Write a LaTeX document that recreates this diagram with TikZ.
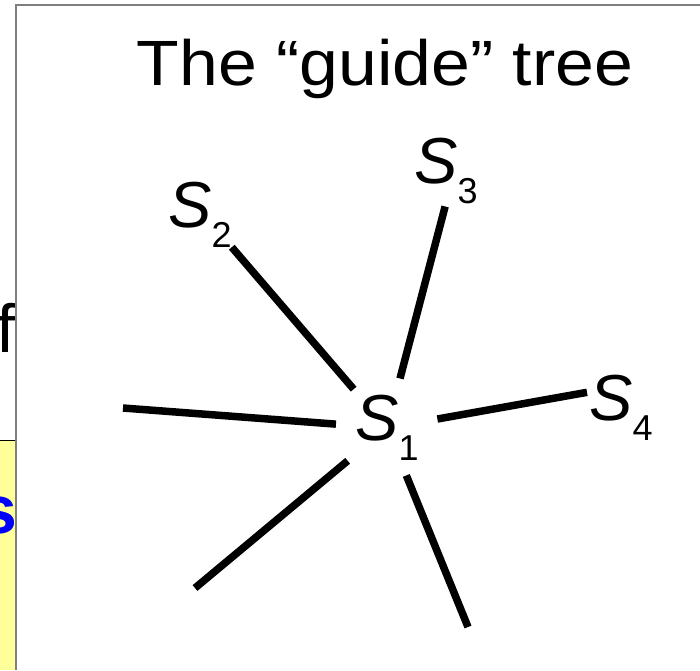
\documentclass[tikz,border=0pt]{standalone}
\usepackage{fontspec}
\setmainfont{Liberation Sans}
\usetikzlibrary{positioning,calc}
\definecolor{noteyellow}{HTML}{FFFF99}
\definecolor{framegray}{HTML}{7F7F7F}
\definecolor{keyblue}{HTML}{0000FF}
\newcommand{\Sq}[1]{\textit{S}\raisebox{-20pt}{\fontsize{36}{36}\selectfont #1}}
\tikzset{
  branch/.style={line width=7.5pt,black},
  seqnode/.style={font=\fontsize{65}{65}\selectfont,inner sep=0pt},
  hubnode/.style={seqnode,circle,minimum size=102pt},
  titlenode/.style={font=\fontsize{64}{64}\selectfont,inner sep=0pt},
  framel/.style={framegray,line width=1.2pt}
}

\begin{document}
\begin{tikzpicture}[x=1pt,y=-1pt]
\useasboundingbox (0,0) rectangle (700,670);
% what shows of the slide on the left
\begin{scope}
\clip (0,0) rectangle (16,670);
\fill[noteyellow] (0,440) rectangle (16,670);
\draw[black,line width=0.8pt] (0,440) -- (16,440);
\node[titlenode,font=\fontsize{68}{68}\selectfont,anchor=base east] (leftf) at (16,352) {f};
\node[titlenode,font=\fontsize{68}{68}\selectfont\bfseries,text=keyblue,anchor=base east] (lefts) at (18,533) {s};
\end{scope}
\draw[framel] (16,670) -- (16,5) -- (700,5);
\node[titlenode,anchor=base] (title) at (385,85) {\scalebox{1.09}[1]{The “guide” tree}};
% the star tree
\node[hubnode] (s1) at (387,428) {\Sq{1}};
\node[seqnode,anchor=base west] (s2) at (168,227) {\Sq{2}};
\node[seqnode,anchor=base west] (s3) at (414,183) {\Sq{3}};
\node[seqnode,anchor=base west] (s4) at (589,420) {\Sq{4}};
\coordinate (leafa) at (123,408);
\coordinate (leafb) at (195,588);
\coordinate (leafc) at (468,627);
\draw[branch] (s1) -- (s2.south east);
\draw[branch,shorten >=3pt] (s1) -- (s3.south);
\draw[branch] (s1) -- ($(s4.west)+(-2,-15)$);
\draw[branch] (s1) -- (leafa);
\draw[branch] (s1) -- (leafb);
\draw[branch] (s1) -- (leafc);
\end{tikzpicture}
\end{document}
